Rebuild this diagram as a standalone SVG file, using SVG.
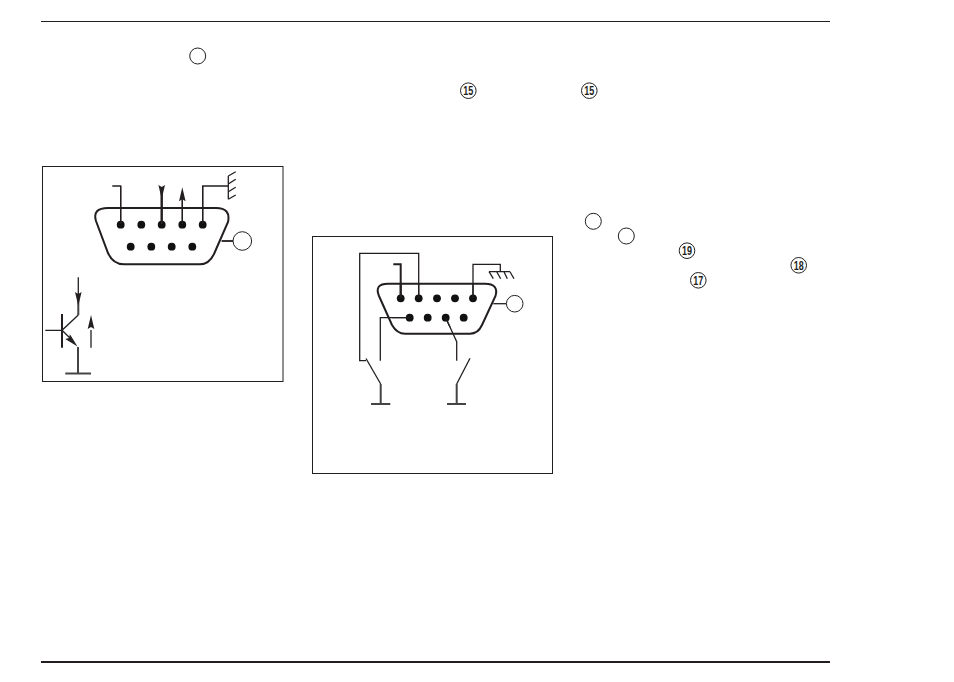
<svg xmlns="http://www.w3.org/2000/svg" width="954" height="682" viewBox="0 0 954 682">
<style>
.l{fill:none;stroke:#231f20;stroke-width:1.3}
.t{fill:none;stroke:#231f20;stroke-width:2}
.g{fill:none;stroke:#444;stroke-width:2}
.c{fill:#fff;stroke:#231f20;stroke-width:1}
.p{fill:#111;stroke:none}
.a{fill:#231f20;stroke:none}
.n{font-family:"Liberation Sans",Arial,sans-serif;font-weight:700;font-size:13px;fill:#231f20;text-anchor:middle}
</style>
<defs>
<circle id="pin" class="p" r="3.9"/>
<path id="up" class="a" d="M0,0L3.3,14L0,12L-3.3,14Z"/>
</defs>
<rect width="954" height="682" fill="#fff"/>
<g id="rules">
<path d="M41,21.5H830" stroke="#231f20" stroke-width="1.2"/>
<path d="M41,662H830" stroke="#231f20" stroke-width="2"/>
</g>
<g id="callouts">
<g id="callout-a"><circle class="c" cx="197.7" cy="56" r="8"/></g>
<g id="callout-15a"><circle class="c" cx="468.3" cy="90.7" r="7.8"/><text class="n" x="468.3" y="95.4" textLength="10" lengthAdjust="spacingAndGlyphs">15</text></g>
<g id="callout-15b"><circle class="c" cx="589.3" cy="90.7" r="7.8"/><text class="n" x="589.3" y="95.4" textLength="10" lengthAdjust="spacingAndGlyphs">15</text></g>
<g id="callout-b"><circle class="c" cx="593.3" cy="221.3" r="8"/></g>
<g id="callout-c"><circle class="c" cx="626.3" cy="236" r="8"/></g>
<g id="callout-19"><circle class="c" cx="687" cy="250.7" r="7.8"/><text class="n" x="687" y="255.4" textLength="10" lengthAdjust="spacingAndGlyphs">19</text></g>
<g id="callout-18"><circle class="c" cx="798.7" cy="265.3" r="7.8"/><text class="n" x="798.7" y="270" textLength="10" lengthAdjust="spacingAndGlyphs">18</text></g>
<g id="callout-17"><circle class="c" cx="698.3" cy="280.3" r="7.8"/><text class="n" x="698.3" y="285" textLength="10" lengthAdjust="spacingAndGlyphs">17</text></g>
</g>
<g id="box-left"><rect x="42.5" y="166.5" width="240.5" height="215" fill="none" stroke="#231f20" stroke-width="1"/></g>
<g id="box-right"><rect x="312.5" y="236.5" width="240" height="237" fill="none" stroke="#231f20" stroke-width="1"/></g>
<g id="connectors">
<path class="l" d="M112.3,186H120.7V224"/>
<path class="t" d="M161.7,188V224"/>
<path class="l" d="M182.3,195V224"/>
<path class="l" d="M202.7,224V186H228.3"/>
<path class="l" d="M228.3,199.3V176M228.3,176L235.7,171.7M228.3,184L235.7,179.3M228.3,191.7L235.7,187.3M228.3,199.3L235.7,195"/>
<path class="l" d="M221.7,241H233"/>
<path class="l" d="M78.3,277.3V300"/>
<path class="t" d="M62,314V347.7"/>
<path class="l" d="M45.3,330.3H62L78.3,315M62,330.3L72,340"/>
<path class="g" d="M78.3,300V315M78,347V373"/>
<path class="g" d="M65.3,373.5H91"/>
<path class="l" d="M91,330V347.7"/>
<path class="t" d="M400.7,298V264.3H393.3"/>
<path class="l" d="M418.7,298V253.3H359.7V360.7H366"/>
<path class="l" d="M366,358.5L380.7,384"/>
<path class="g" d="M380.7,384V404M371,404H390.3"/>
<path class="l" d="M473,298V264.3H500.3V271.7"/>
<path class="l" d="M489,271.7H510M489,271.7L493.3,278.7M496.7,271.7L500.7,278.7M504,271.7L507.3,278.7M510,271.7L514,278.7"/>
<path class="l" d="M493.3,303.7H506.3"/>
<path class="l" d="M409.7,317.7H380.3V360.7"/>
<path class="l" d="M445.7,317.7L456.7,341.7V360.7"/>
<path class="l" d="M470,358.3L456.7,384"/>
<path class="g" d="M456.7,384V404M447,404H466"/>
</g>
<g id="connector-left">
<path class="t" d="M108,208H216Q231,208 228,222L214,254Q209,264.3 200,264.3H124Q113,264.3 108,253L96,221Q92,208 108,208Z" fill="#fff"/>
<use href="#pin" x="120.7" y="224.7"/><use href="#pin" x="141.3" y="224.7"/><use href="#pin" x="161.7" y="224.7"/><use href="#pin" x="182.3" y="224.7"/><use href="#pin" x="202.7" y="224.7"/>
<use href="#pin" x="130.7" y="246.7"/><use href="#pin" x="151.3" y="246.7"/><use href="#pin" x="171.7" y="246.7"/><use href="#pin" x="192.3" y="246.7"/>
<path class="l" d="M120.7,186V224M182.3,195V224M202.7,186V224M221.7,241H233"/>
<path class="t" d="M161.7,188V224"/>
<circle class="c" cx="242.3" cy="241" r="9.3"/>
</g>
<g id="connector-right">
<path class="t" d="M388,283.7H485Q499,283.7 495.5,296L482,325Q478,333.7 470,333.7H405Q397,333.7 392,325L379,296Q374,283.7 388,283.7Z" fill="#fff"/>
<use href="#pin" x="400.7" y="298.3"/><use href="#pin" x="418.7" y="298.3"/><use href="#pin" x="437" y="298.3"/><use href="#pin" x="455" y="298.3"/><use href="#pin" x="473" y="298.3"/>
<use href="#pin" x="409.7" y="317.7"/><use href="#pin" x="427.7" y="317.7"/><use href="#pin" x="445.7" y="317.7"/><use href="#pin" x="463.7" y="317.7"/>
<path class="t" d="M400.7,284V298"/>
<path class="l" d="M418.7,284V298M473,284V298M409.7,317.7H392M445.7,317.7L450,327"/>
<circle class="c" cx="514.7" cy="303.7" r="8.3"/>
</g>
<g id="arrowheads">
<use href="#up" transform="translate(161.7,199) rotate(180)"/>
<use href="#up" x="182.3" y="187.3"/>
<use href="#up" transform="translate(78.3,306) rotate(180)"/>
<use href="#up" x="91" y="315"/>
<use href="#up" transform="translate(77.5,346.5) rotate(135)"/>
</g>
</svg>
